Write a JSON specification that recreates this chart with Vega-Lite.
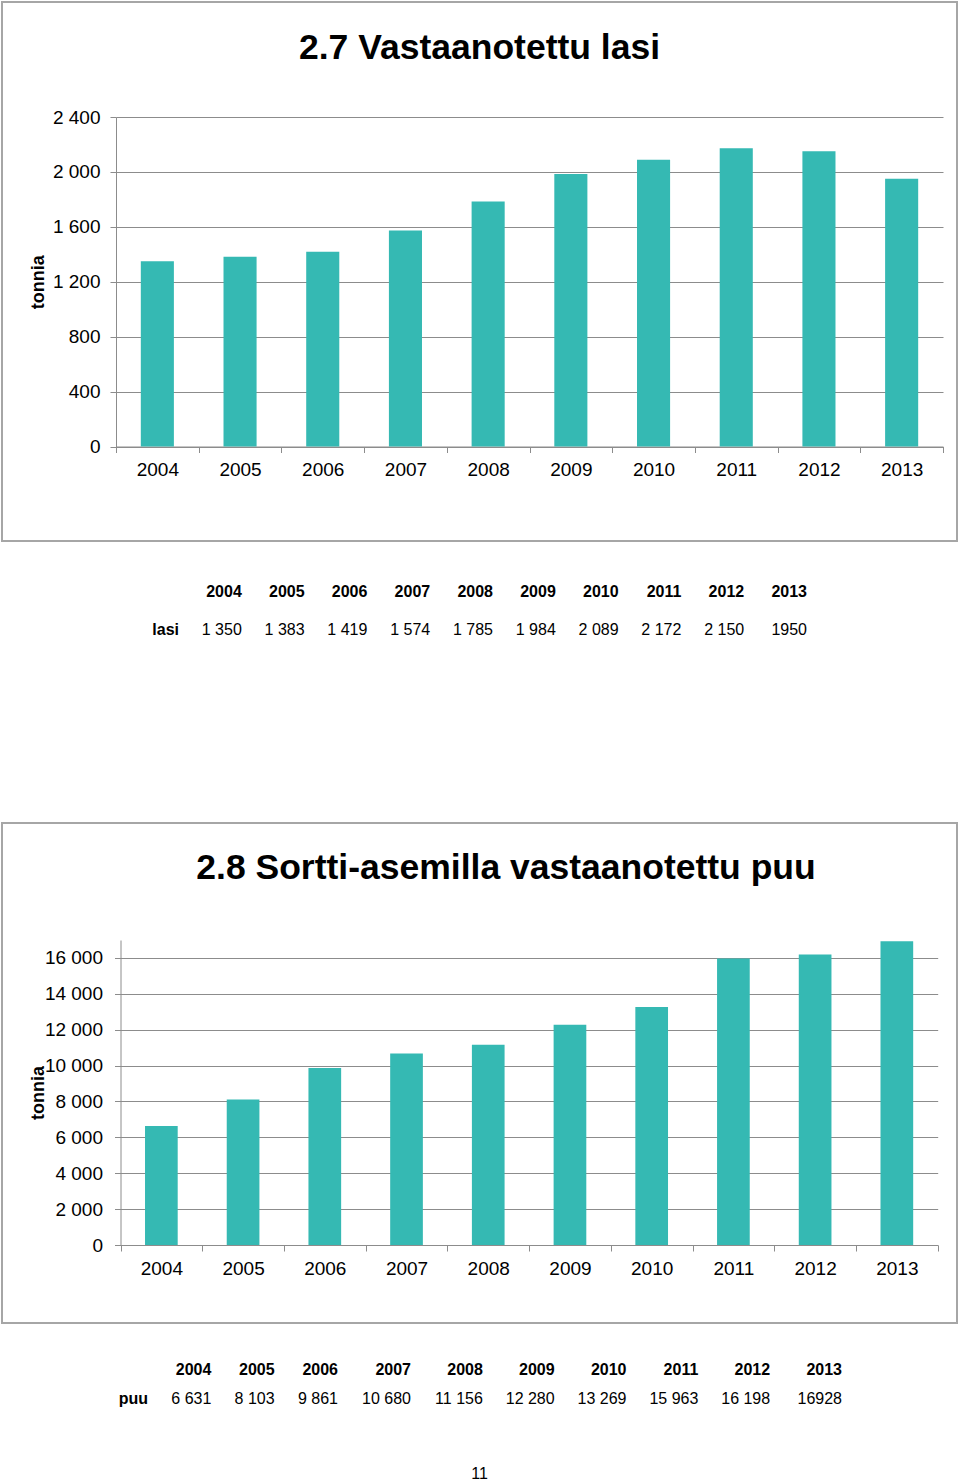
{
  "$schema": "https://vega.github.io/schema/vega-lite/v6.json",
  "padding": {"left": 1, "top": 1, "right": 3, "bottom": 0},
  "background": "white",
  "bounds": "flush",
  "spacing": 0,
  "datasets": {
    "lasi": [
      {"vuosi": "2004", "tonnia": 1350, "teksti": "1 350"},
      {"vuosi": "2005", "tonnia": 1383, "teksti": "1 383"},
      {"vuosi": "2006", "tonnia": 1419, "teksti": "1 419"},
      {"vuosi": "2007", "tonnia": 1574, "teksti": "1 574"},
      {"vuosi": "2008", "tonnia": 1785, "teksti": "1 785"},
      {"vuosi": "2009", "tonnia": 1984, "teksti": "1 984"},
      {"vuosi": "2010", "tonnia": 2089, "teksti": "2 089"},
      {"vuosi": "2011", "tonnia": 2172, "teksti": "2 172"},
      {"vuosi": "2012", "tonnia": 2150, "teksti": "2 150"},
      {"vuosi": "2013", "tonnia": 1950, "teksti": "1950"}
    ],
    "puu": [
      {"vuosi": "2004", "tonnia": 6631, "teksti": "6 631"},
      {"vuosi": "2005", "tonnia": 8103, "teksti": "8 103"},
      {"vuosi": "2006", "tonnia": 9861, "teksti": "9 861"},
      {"vuosi": "2007", "tonnia": 10680, "teksti": "10 680"},
      {"vuosi": "2008", "tonnia": 11156, "teksti": "11 156"},
      {"vuosi": "2009", "tonnia": 12280, "teksti": "12 280"},
      {"vuosi": "2010", "tonnia": 13269, "teksti": "13 269"},
      {"vuosi": "2011", "tonnia": 15963, "teksti": "15 963"},
      {"vuosi": "2012", "tonnia": 16198, "teksti": "16 198"},
      {"vuosi": "2013", "tonnia": 16928, "teksti": "16928"}
    ]
  },
  "config": {
    "font": "Liberation Sans",
    "view": {"stroke": "#a6a6a6", "strokeWidth": 2},
    "axis": {
      "labelFont": "Liberation Sans",
      "labelColor": "#000000",
      "labelFontSize": 19,
      "domainColor": "#8c8c8c",
      "tickColor": "#8c8c8c",
      "gridColor": "#8c8c8c",
      "titleFont": "Liberation Sans",
      "titleColor": "#000000"
    },
    "title": {"font": "Liberation Sans", "color": "#000000", "fontSize": 35.5, "fontWeight": "bold", "anchor": "middle", "frame": "group", "baseline": "alphabetic"},
    "text": {"font": "Liberation Sans", "color": "#000000"}
  },
  "vconcat": [
    {
      "width": 955,
      "height": 539,
      "title": {"text": "2.7 Vastaanotettu lasi", "offset": -64},
      "data": {"name": "lasi"},
      "mark": {"type": "bar", "color": "#35b9b3", "width": {"band": 0.4}},
      "encoding": {
        "x": {
          "field": "vuosi", "type": "nominal",
          "scale": {"type": "band", "range": [114, 941], "paddingInner": 0, "paddingOuter": 0},
          "axis": {"title": null, "labelAngle": 0, "offset": -94.5, "tickBand": "extent", "tickSize": 6, "labelPadding": 8, "grid": false}
        },
        "y": {
          "field": "tonnia", "type": "quantitative",
          "scale": {"domain": [0, 2400], "range": [444.5, 115], "nice": false},
          "axis": {
            "title": "tonnia", "titleFontSize": 18, "titleFontWeight": "bold", "titlePadding": 5,
            "offset": -114, "values": [0, 400, 800, 1200, 1600, 2000, 2400],
            "labelExpr": "replace(format(datum.value, ','), ',', ' ')",
            "tickSize": 6, "labelPadding": 10, "grid": true
          }
        }
      }
    },
    {
      "width": 955,
      "height": 282,
      "view": {"stroke": null},
      "layer": [
        {
          "data": {"name": "lasi"},
          "mark": {"type": "text", "fontSize": 16, "fontWeight": "bold", "align": "right", "baseline": "middle"},
          "encoding": {
            "x": {"field": "vuosi", "type": "nominal", "scale": {"type": "point", "domain": ["rivi", "2004", "2005", "2006", "2007", "2008", "2009", "2010", "2011", "2012", "2013"], "range": [177, 805], "padding": 0}, "axis": null},
            "y": {"datum": "otsikko", "type": "nominal", "scale": {"type": "point", "domain": ["otsikko", "arvo"], "range": [51, 89], "padding": 0}, "axis": null},
            "text": {"field": "vuosi"}
          }
        },
        {
          "data": {"name": "lasi"},
          "mark": {"type": "text", "fontSize": 16, "align": "right", "baseline": "middle"},
          "encoding": {
            "x": {"field": "vuosi", "type": "nominal", "axis": null},
            "y": {"datum": "arvo", "type": "nominal", "axis": null},
            "text": {"field": "teksti"}
          }
        },
        {
          "data": {"values": [{"rivi": "lasi"}]},
          "mark": {"type": "text", "fontSize": 16, "fontWeight": "bold", "align": "right", "baseline": "middle"},
          "encoding": {
            "x": {"datum": "rivi", "type": "nominal", "axis": null},
            "y": {"datum": "arvo", "type": "nominal", "axis": null},
            "text": {"field": "rivi"}
          }
        }
      ]
    },
    {
      "width": 955,
      "height": 500,
      "title": {"text": "2.8 Sortti-asemilla vastaanotettu puu", "offset": -63, "dx": 26.5},
      "data": {"name": "puu"},
      "mark": {"type": "bar", "color": "#35b9b3", "width": {"band": 0.4}},
      "encoding": {
        "x": {
          "field": "vuosi", "type": "nominal",
          "scale": {"type": "band", "range": [118.5, 935.7], "paddingInner": 0, "paddingOuter": 0},
          "axis": {"title": null, "labelAngle": 0, "offset": -78, "tickBand": "extent", "tickSize": 6, "labelPadding": 8, "grid": false}
        },
        "y": {
          "field": "tonnia", "type": "quantitative",
          "scale": {"domain": [0, 17000], "range": [422, 117], "nice": false},
          "axis": {
            "title": "tonnia", "titleFontSize": 18, "titleFontWeight": "bold", "titlePadding": -3,
            "offset": -118.5, "values": [0, 2000, 4000, 6000, 8000, 10000, 12000, 14000, 16000],
            "labelExpr": "replace(format(datum.value, ','), ',', ' ')",
            "tickSize": 6, "labelPadding": 12, "grid": true
          }
        }
      }
    },
    {
      "width": 955,
      "height": 141,
      "view": {"stroke": null},
      "resolve": {"scale": {"x": "independent"}},
      "layer": [
        {
          "layer": [
            {
              "data": {"name": "puu"},
              "transform": [{"filter": {"field": "vuosi", "oneOf": ["2004", "2005", "2006"]}}],
              "mark": {"type": "text", "fontSize": 16, "fontWeight": "bold", "align": "right", "baseline": "middle"},
              "encoding": {
                "x": {"field": "vuosi", "type": "nominal", "scale": {"type": "point", "domain": ["rivi", "2004", "2005", "2006"], "range": [146, 336], "padding": 0}, "axis": null},
                "y": {"datum": "otsikko", "type": "nominal", "scale": {"type": "point", "domain": ["otsikko", "arvo"], "range": [47, 76], "padding": 0}, "axis": null},
                "text": {"field": "vuosi"}
              }
            },
            {
              "data": {"name": "puu"},
              "transform": [{"filter": {"field": "vuosi", "oneOf": ["2004", "2005", "2006"]}}],
              "mark": {"type": "text", "fontSize": 16, "align": "right", "baseline": "middle"},
              "encoding": {
                "x": {"field": "vuosi", "type": "nominal", "axis": null},
                "y": {"datum": "arvo", "type": "nominal", "axis": null},
                "text": {"field": "teksti"}
              }
            },
            {
              "data": {"values": [{"rivi": "puu"}]},
              "mark": {"type": "text", "fontSize": 16, "fontWeight": "bold", "align": "right", "baseline": "middle"},
              "encoding": {
                "x": {"datum": "rivi", "type": "nominal", "axis": null},
                "y": {"datum": "arvo", "type": "nominal", "axis": null},
                "text": {"field": "rivi"}
              }
            }
          ]
        },
        {
          "layer": [
            {
              "data": {"name": "puu"},
              "transform": [{"filter": {"field": "vuosi", "oneOf": ["2007", "2008", "2009", "2010", "2011", "2012", "2013"]}}],
              "mark": {"type": "text", "fontSize": 16, "fontWeight": "bold", "align": "right", "baseline": "middle"},
              "encoding": {
                "x": {"field": "vuosi", "type": "nominal", "scale": {"type": "point", "domain": ["2007", "2008", "2009", "2010", "2011", "2012", "2013"], "range": [409, 840], "padding": 0}, "axis": null},
                "y": {"datum": "otsikko", "type": "nominal", "axis": null},
                "text": {"field": "vuosi"}
              }
            },
            {
              "data": {"name": "puu"},
              "transform": [{"filter": {"field": "vuosi", "oneOf": ["2007", "2008", "2009", "2010", "2011", "2012", "2013"]}}],
              "mark": {"type": "text", "fontSize": 16, "align": "right", "baseline": "middle"},
              "encoding": {
                "x": {"field": "vuosi", "type": "nominal", "axis": null},
                "y": {"datum": "arvo", "type": "nominal", "axis": null},
                "text": {"field": "teksti"}
              }
            }
          ]
        }
      ]
    },
    {
      "width": 955,
      "height": 20,
      "view": {"stroke": null},
      "data": {"values": [{"sivu": "11"}]},
      "mark": {"type": "text", "fontSize": 16, "align": "center", "baseline": "middle"},
      "encoding": {"text": {"field": "sivu"}}
    }
  ]
}
